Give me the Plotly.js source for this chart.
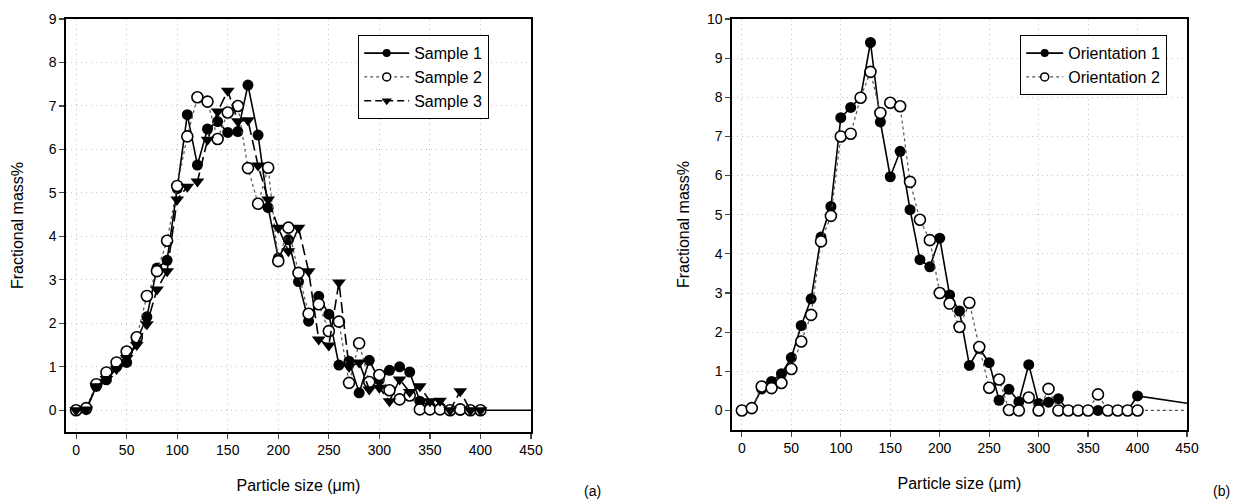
<!DOCTYPE html>
<html><head><meta charset="utf-8">
<script src="https://cdn.plot.ly/plotly-3.0.1.min.js"></script>
<style>html,body{margin:0;padding:0;background:#fff}#chart{width:1233px;height:501px}</style>
</head><body><div id="chart"></div>
<script>
// Panel (a): particle size (µm) and fractional mass % per sample
const sizeA = [0,10,20,30,40,50,60,70,80,90,100,110,120,130,140,150,160,170,180,190,200,210,220,230,240,250,260,270,280,290,300,310,320,330,340,350,360,370,380,390,400];
const sizeA1 = [0,10,20,30,40,50,60,70,80,90,100,110,120,130,140,150,160,170,180,190,200,210,220,230,240,250,260,270,280,290,300,310,320,330,340,350,360,370,380,390,400,500];
const sample1 = [0,0.02,0.55,0.7,1.0,1.1,1.6,2.15,3.27,3.45,5.1,6.8,5.64,6.47,6.64,6.39,6.41,7.48,6.33,4.66,3.5,3.92,2.96,2.05,2.62,2.21,1.04,1.13,0.4,1.15,0.7,0.92,1.0,0.88,0.21,0.1,0.05,0,0,0,0,0];
const sample2 = [0,0.05,0.6,0.87,1.1,1.35,1.68,2.63,3.2,3.9,5.16,6.3,7.2,7.1,6.24,6.85,7.0,5.57,4.75,5.58,3.43,4.2,3.16,2.22,2.44,1.82,2.04,0.63,1.54,0.65,0.81,0.46,0.25,0.34,0.02,0.02,0.02,0,0.02,0,0];
const sample3 = [0,0.02,0.55,0.72,0.95,1.2,1.5,1.98,2.78,3.2,4.85,5.14,5.26,6.22,6.87,7.35,6.65,6.67,5.63,4.85,4.2,3.66,4.2,3.2,1.63,1.49,2.94,1.0,1.1,0.48,0.52,0.21,0.71,0.42,0.55,0.21,0.22,0,0.44,0,0];

// Panel (b): fractional mass % per orientation
const sizeB = [0,10,20,30,40,50,60,70,80,90,100,110,120,130,140,150,160,170,180,190,200,210,220,230,240,250,260,270,280,290,300,310,320,330,340,350,360,370,380,390,400,500];
const orient1 = [0,0.05,0.55,0.74,0.94,1.35,2.17,2.85,4.43,5.21,7.48,7.74,8.0,9.4,7.37,5.97,6.62,5.13,3.85,3.67,4.4,2.95,2.54,1.15,1.58,1.22,0.26,0.54,0.22,1.17,0.18,0.21,0.3,0,0,0,0,0,0,0,0.37,0];
const orient2 = [0,0.06,0.61,0.57,0.7,1.06,1.76,2.44,4.32,4.97,7.0,7.07,7.99,8.65,7.6,7.86,7.77,5.84,4.87,4.35,3.0,2.73,2.13,2.75,1.62,0.58,0.79,0.01,0,0.33,0,0.55,0,0,0,0,0.41,0,0,0,0,0];

const namesA = ['Sample 1','Sample 2','Sample 3'];
const namesB = ['Orientation 1','Orientation 2'];
const xTicks = [0,50,100,150,200,250,300,350,400,450];

const MS = 11;
const openMarker = {symbol:'circle', size:MS, color:'#ffffff', line:{color:'#000', width:1.6}};
const fillCircle = {symbol:'circle', size:MS, color:'#000', line:{color:'#000', width:0}};
const fillTri = {symbol:'triangle-down', size:MS+1, color:'#000', line:{color:'#000', width:0}};

const traces = [
  {x:sizeA1, y:sample1, xaxis:'x', yaxis:'y', mode:'lines+markers', showlegend:false,
   line:{color:'#000', width:1.6}, marker:fillCircle},
  {x:sizeA, y:sample2, xaxis:'x', yaxis:'y', mode:'lines+markers', showlegend:false,
   line:{color:'#555', width:1.2, dash:'dot'}, marker:openMarker},
  {x:sizeA, y:sample3, xaxis:'x', yaxis:'y', mode:'lines+markers', showlegend:false,
   line:{color:'#000', width:1.6, dash:'11px,5px'}, marker:fillTri},
  {x:sizeB, y:orient1, xaxis:'x2', yaxis:'y2', mode:'lines+markers', showlegend:false,
   line:{color:'#000', width:1.6}, marker:fillCircle},
  {x:sizeB, y:orient2, xaxis:'x2', yaxis:'y2', mode:'lines+markers', showlegend:false,
   line:{color:'#555', width:1.2, dash:'dot'}, marker:openMarker},
  // legend entries
  {x:[null], y:[null], xaxis:'x', yaxis:'y', mode:'lines+markers', name:namesA[0], legend:'legend', legendgroup:'a1',
   line:{color:'#000', width:1.6}, marker:{symbol:'circle', size:8, color:'#000'}},
  {x:[null], y:[null], xaxis:'x', yaxis:'y', mode:'lines+markers', name:namesA[1], legend:'legend', legendgroup:'a2',
   line:{color:'#555', width:1.2, dash:'dot'}, marker:{symbol:'circle', size:8, color:'#fff', line:{color:'#000', width:1.5}}},
  {x:[null], y:[null], xaxis:'x', yaxis:'y', mode:'lines+markers', name:namesA[2], legend:'legend', legendgroup:'a3',
   line:{color:'#000', width:1.6, dash:'7px,4px'}, marker:{symbol:'triangle-down', size:9, color:'#000'}},
  {x:[null], y:[null], xaxis:'x2', yaxis:'y2', mode:'lines+markers', name:namesB[0], legend:'legend2', legendgroup:'b1',
   line:{color:'#000', width:1.6}, marker:{symbol:'circle', size:8, color:'#000'}},
  {x:[null], y:[null], xaxis:'x2', yaxis:'y2', mode:'lines+markers', name:namesB[1], legend:'legend2', legendgroup:'b2',
   line:{color:'#555', width:1.2, dash:'dot'}, marker:{symbol:'circle', size:8, color:'#fff', line:{color:'#000', width:1.5}}}
];

const FONT = 'Arial, "Liberation Sans", sans-serif';
function xax(domain){
  return {domain:domain, range:[-10,450], tickvals:xTicks, ticks:'outside', ticklen:5, tickwidth:1.2,
    showline:true, mirror:true, linecolor:'#000', linewidth:1.6, showgrid:true, gridcolor:'#c4c4c4',
    griddash:'1px,4px', gridwidth:1, zeroline:false, tickfont:{size:14, color:'#000'},
    title:{text:'Particle size (\u03bcm)', font:{size:16, color:'#000'}}, automargin:false};
}
function yax(domain, range, anchor){
  return {domain:domain, range:range, dtick:1, ticks:'outside', ticklen:5, tickwidth:1.2, anchor:anchor,
    showline:true, mirror:true, linecolor:'#000', linewidth:1.6, showgrid:true, gridcolor:'#c4c4c4',
    griddash:'1px,4px', gridwidth:1, zeroline:false, tickfont:{size:14, color:'#000'},
    title:{text:'Fractional mass%', font:{size:16, color:'#000'}}, automargin:false};
}

const layout = {
  width:1233, height:501, margin:{l:0, r:0, t:0, b:0},
  paper_bgcolor:'#fff', plot_bgcolor:'#fff', font:{family:FONT, color:'#000'},
  xaxis: Object.assign(xax([66/1233, 531/1233]), {anchor:'y'}),
  yaxis: yax([69/501, 482/501], [-0.5, 9], 'x'),
  xaxis2: Object.assign(xax([732/1233, 1187/1233]), {anchor:'y2'}),
  yaxis2: yax([71/501, 482/501], [-0.5, 10], 'x2'),
  legend:{x:358/1233, y:(501-35)/501, xanchor:'left', yanchor:'top', bgcolor:'#fff', bordercolor:'#000',
    borderwidth:1.2, font:{size:16, color:'#000'}, itemwidth:45, tracegroupgap:0},
  legend2:{x:1020/1233, y:(501-35)/501, xanchor:'left', yanchor:'top', bgcolor:'#fff', bordercolor:'#000',
    borderwidth:1.2, font:{size:16, color:'#000'}, itemwidth:37, tracegroupgap:0},
  annotations:[
    {text:'(a)', xref:'paper', yref:'paper', x:592/1233, y:(501-491)/501, yanchor:'middle', xanchor:'center', showarrow:false, font:{size:14}},
    {text:'(b)', xref:'paper', yref:'paper', x:1221/1233, y:(501-491)/501, yanchor:'middle', xanchor:'center', showarrow:false, font:{size:14}}
  ]
};

Plotly.newPlot('chart', traces, layout, {displayModeBar:false, staticPlot:true});
</script>
</body></html>
